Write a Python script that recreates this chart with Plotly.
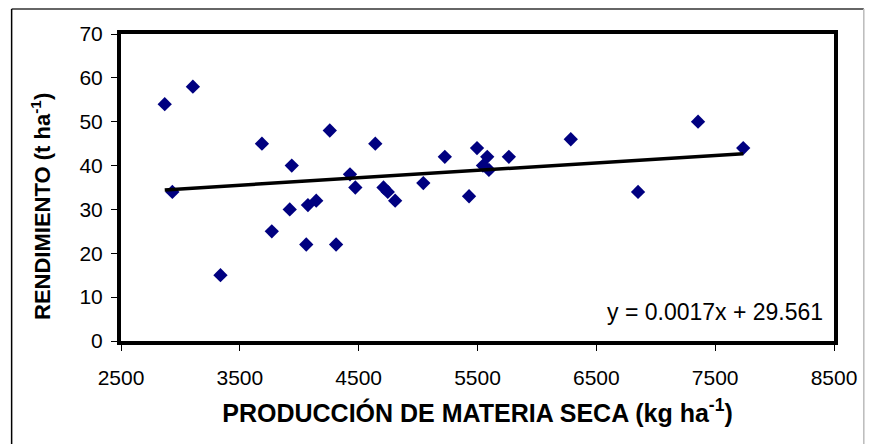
import plotly.graph_objects as go

# Data
materia_seca = [2868, 3105, 2932, 3337, 3686, 3769, 3937, 3920, 4059, 4073,
                4143, 4257, 4310, 4427, 4472, 4640, 4709, 4745, 4807, 5044,
                5225, 5429, 5496, 5582, 5546, 5596, 5764, 6285, 6851, 7356,
                7736]
rendimiento = [54, 58, 34, 15, 45, 25, 40, 30, 22, 31,
               32, 48, 22, 38, 35, 45, 35, 34, 32, 36,
               42, 33, 44, 42, 40, 39, 42, 46, 34, 50,
               44]
slope = 0.0017
intercept = 29.561
x_ticks = [2500, 3500, 4500, 5500, 6500, 7500, 8500]
y_ticks = [0, 10, 20, 30, 40, 50, 60, 70]

trend_x = [min(materia_seca), max(materia_seca)]
trend_y = [slope * v + intercept for v in trend_x]

fig = go.Figure()
fig.add_trace(go.Scatter(
    x=materia_seca, y=rendimiento, mode="markers",
    marker=dict(symbol="diamond", size=11, color="#000080",
                line=dict(width=0)),
    showlegend=False, cliponaxis=False))
fig.add_trace(go.Scatter(
    x=trend_x, y=trend_y, mode="lines",
    line=dict(color="black", width=3.5),
    showlegend=False))

font_family = "Liberation Sans, Arial, sans-serif"

fig.update_layout(
    width=869, height=444,
    margin=dict(l=121, r=31, t=34, b=103),
    paper_bgcolor="white", plot_bgcolor="white",
    font=dict(family=font_family, color="black", size=21),
    xaxis=dict(range=[2500, 8500], tickvals=x_ticks,
               ticktext=[str(v) for v in x_ticks],
               showgrid=False, zeroline=False,
               showline=True, linecolor="black", linewidth=4, mirror=True,
               ticks="outside", ticklen=6, tickwidth=1, tickcolor="black",
               tickfont=dict(size=21), ticklabelstandoff=9,
               title=dict(text="<b>PRODUCCIÓN DE MATERIA SECA (kg ha<sup>-1</sup>)</b>",
                          font=dict(size=25), standoff=17)),
    yaxis=dict(range=[0, 70], tickvals=y_ticks,
               showgrid=False, zeroline=False,
               showline=True, linecolor="black", linewidth=4, mirror=True,
               ticks="outside", ticklen=6, tickwidth=1, tickcolor="black",
               tickfont=dict(size=21), ticklabelstandoff=4),
    annotations=[
        dict(text=f"y = {slope}x + {intercept}", xref="paper", yref="paper",
             x=0.987, y=0.045, xanchor="right", yanchor="bottom",
             showarrow=False, font=dict(size=23, family=font_family)),
        dict(text="<b>RENDIMIENTO (t ha<sup>-1</sup>)</b>",
             xref="paper", yref="paper", x=-0.113, y=0.438,
             xanchor="center", yanchor="middle", textangle=-90,
             showarrow=False, font=dict(size=22, family=font_family)),
    ],
    shapes=[
        dict(type="line", xref="paper", yref="paper",
             x0=-0.1534, x1=1.0418, y0=1.0812, y1=1.0812,
             line=dict(color="#333333", width=1.5)),
        dict(type="line", xref="paper", yref="paper",
             x0=-0.1534, x1=-0.1534, y0=1.0812, y1=-0.35,
             line=dict(color="black", width=1.5)),
        dict(type="line", xref="paper", yref="paper",
             x0=1.0418, x1=1.0418, y0=1.0812, y1=-0.35,
             line=dict(color="#bbbbbb", width=1.5)),
    ],
)

fig.write_html("out.html")
